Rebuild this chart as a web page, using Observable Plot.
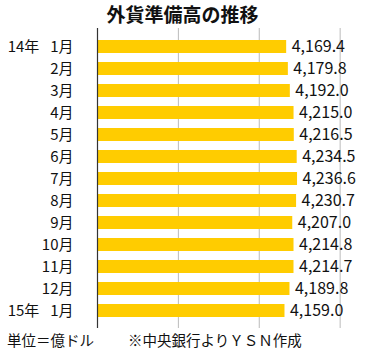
<!DOCTYPE html>
<html>
<head>
<meta charset="utf-8">
<script src="https://cdn.jsdelivr.net/npm/d3@7"></script>
<script src="https://cdn.jsdelivr.net/npm/@observablehq/plot@0.6"></script>
<style>
  body { margin: 0; background: #fff; font-family: "Noto Sans CJK JP", sans-serif; }
  #wrap { width: 375px; height: 356px; overflow: hidden; }
  #title { height: 28px; line-height: 28px; font-size: 19px; font-weight: bold; text-align: center; padding-right: 10px; color: #111; }
  #foot { height: 24px; line-height: 24px; font-size: 14.5px; color: #111; padding-left: 7px; white-space: pre; }
  #foot span.src { margin-left: 34px; }
  svg { display: block; }
</style>
</head>
<body>
<div id="wrap">
  <div id="title">外貨準備高の推移</div>
  <div id="chart"></div>
  <div id="foot"><span>単位＝億ドル</span><span class="src">※中央銀行よりＹＳＮ作成</span></div>
</div>
<script>
const months = ["14年\u2002 1月","2月","3月","4月","5月","6月","7月","8月","9月","10月","11月","12月","15年\u2002 1月"];
const values = [4169.4,4179.8,4192.0,4215.0,4216.5,4234.5,4236.6,4230.7,4207.0,4214.8,4214.7,4189.8,4159.0];
const gridTicks = [3500, 4000, 4500];
const axisMin = 3000;

const data = months.map((m, i) => ({month: m, value: values[i]}));

const chart = Plot.plot({
  width: 375,
  height: 300,
  marginTop: 0,
  marginBottom: 0,
  marginLeft: 97,
  marginRight: 3,
  style: {fontFamily: "'Noto Sans CJK JP', sans-serif", color: "#111"},
  x: {domain: [3000, 4700], axis: null},
  y: {domain: months, padding: 0.41, label: null},
  marks: [
    Plot.ruleX(gridTicks, {stroke: "#bbb", strokeWidth: 1}),
    Plot.barX(data, {x1: axisMin, x2: "value", y: "month", fill: "#FFCC00"}),
    Plot.ruleX([axisMin], {stroke: "#333", strokeWidth: 1.2}),
    Plot.text(data, {x: "value", y: "month", text: d => d3.format(",.1f")(d.value), textAnchor: "start", dx: 5, fontSize: 16, fill: "#111"}),
    Plot.axisY({tickSize: 0, tickPadding: 24, fontSize: 15, label: null})
  ]
});
document.getElementById("chart").appendChild(chart);
</script>
</body>
</html>
